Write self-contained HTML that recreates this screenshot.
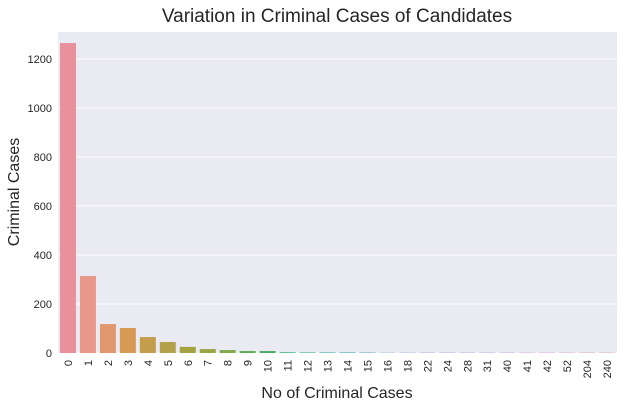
<!DOCTYPE html>
<html><head><meta charset="utf-8"><style>
body{margin:0;background:#fff;font-family:"Liberation Sans",sans-serif}
</style></head><body>
<svg id="chart" width="625" height="407" xmlns="http://www.w3.org/2000/svg">
<rect x="58" y="32" width="559" height="321" fill="#eaeaf2"/>
<g id="grid"></g><g id="bars"></g><g id="xt"></g><g id="yt"></g>
<text x="337" y="22" text-anchor="middle" font-size="19" fill="#262626">Variation in Criminal Cases of Candidates</text>
<text x="337" y="398" text-anchor="middle" font-size="16" fill="#262626">No of Criminal Cases</text>
<text transform="translate(19,192) rotate(-90)" text-anchor="middle" font-size="16" fill="#262626">Criminal Cases</text>
</svg>
<script>
const categories=["0","1","2","3","4","5","6","7","8","9","10","11","12","13","14","15","16","18","22","24","28","31","40","41","42","52","204","240"];
const values=[1265,314,118,102,65,45,25,16,12,8,8,4,3,3,3,2,1,1,1,1,1,1,1,1,1,1,1,1];
const yTicks=[0,200,400,600,800,1000,1200];
const palette=["#e8909c","#e8978a","#e0976c","#d69a55","#c49d4a","#b3a04a","#a5a240","#98a540","#80a94b","#62ab55","#4aad68"];
const NS="http://www.w3.org/2000/svg";
const L=58,R=617,B=353,T=32,YMAX=1310;
const y=v=>B-v/YMAX*(B-T);
const band=(R-L)/categories.length;
const x=i=>L+i*band;
function mk(t,a,p){const e=document.createElementNS(NS,t);for(const k in a)e.setAttribute(k,a[k]);document.getElementById(p).appendChild(e);return e;}
yTicks.forEach(v=>{
  const g=mk('line',{x1:L,x2:R,y1:y(v),y2:y(v),stroke:'#fff','stroke-width':1},'grid');
  
  
  const t=mk('text',{x:L-6,y:y(v)+4,'text-anchor':'end','font-size':11,fill:'#262626'},'yt');
  t.textContent=v;
  
  
});
categories.forEach((c,i)=>{
  const col=i<palette.length?palette[i]:`hsl(${150+(i-11)*12},45%,58%)`;
  const b=mk('rect',{x:x(i)+band*0.1,y:y(values[i]),width:band*0.8,height:B-y(values[i]),fill:col},'bars');
  
  
  const cx=x(i)+band/2;
  const t=mk('text',{x:0,y:0,'text-anchor':'end','font-size':11,fill:'#262626',transform:`translate(${cx+4},${B+7}) rotate(-90)`},'xt');
  t.textContent=c;
  
  
});
</script>
</body></html>
